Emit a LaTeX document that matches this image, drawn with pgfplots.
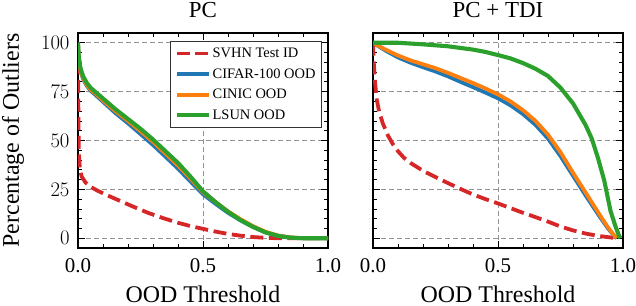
\documentclass[border=0pt]{standalone}
\usepackage[no-math]{fontspec}
\setmainfont{Liberation Serif}
\usepackage{pgfplots}
\pgfplotsset{compat=1.18}
\definecolor{tabred}{HTML}{D62728}
\definecolor{tabblue}{HTML}{1F77B4}
\definecolor{taborange}{HTML}{FF7F0E}
\definecolor{tabgreen}{HTML}{2CA02C}
\pgfplotsset{
  common/.style={
    scale only axis, width=250bp, height=215bp,
    xmin=0, xmax=1, ymin=-5, ymax=105,
    xtick={0,0.5,1}, ytick={0,25,50,75,100},
    xticklabels={0.0,0.5,1.0},
    minor x tick num=4, minor y tick num=4,
    tick align=inside, tick pos=both,
    major tick length=7bp, minor tick length=4bp,
    every tick/.style={black, line width=1bp},
    every minor tick/.style={black, line width=0.8bp},
    axis line style={line width=1.3bp, black},
    grid=major,
    major grid style={gray!85, line width=0.9bp, dash pattern=on 5bp off 3bp},
    tick label style={font=\fontsize{21}{22}\selectfont},
    xticklabel style={anchor=base, yshift=-24bp},
    yticklabel style={xshift=-5bp},
    every axis title/.style={at={(axis description cs:0.5,1)}, anchor=base, yshift=15bp, font=\fontsize{23}{25}\selectfont},
    every axis x label/.style={at={(axis description cs:0.5,0)}, anchor=base, yshift=-54bp, font=\fontsize{24}{26}\selectfont},
    every axis y label/.style={at={(axis description cs:0,0.5)}, xshift=-59bp, rotate=90, anchor=base, font=\fontsize{24}{26}\selectfont},
    legend image code/.code={\draw[#1] (0bp,0bp) -- (32bp,0bp);},
  },
  redc/.style={tabred, line width=3.8bp, dash pattern=on 13bp off 5.6bp},
  bluec/.style={tabblue, line width=3.8bp},
  orangec/.style={taborange, line width=3.8bp},
  greenc/.style={tabgreen, line width=4.1bp},
}
\begin{document}
\begin{tikzpicture}
\useasboundingbox (0,0) rectangle (636bp,306bp);
\begin{axis}[common, at={(78bp,58bp)}, anchor=south west,
  title={PC}, xlabel={OOD Threshold}, ylabel={Percentage of Outliers},
  legend cell align=left,
  legend style={at={(axis description cs:1,1)}, anchor=north east, xshift=-6bp, yshift=-8bp,
    font=\fontsize{14.5}{15.5}\selectfont, draw=black!80, line width=1bp, row sep=5.5bp,
    inner xsep=4bp, inner ysep=4.5bp, fill=white},
]
\addplot[redc] coordinates {(0,100)(0.001,75)(0.002,55)(0.004,42)(0.008,35)(0.015,31.5)(0.03,28.5)(0.05,26.3)(0.08,24.2)(0.12,21.8)(0.17,19)(0.22,16.2)(0.28,13)(0.34,10.3)(0.4,7.9)(0.45,6.2)(0.5,4.8)(0.55,3.4)(0.6,2.2)(0.65,1.3)(0.7,0.6)(0.75,0.2)(0.8,0)(1,0)};
\addlegendentry{SVHN Test ID}
\addplot[bluec] coordinates {(0,100)(0.003,92)(0.01,86)(0.02,81.5)(0.035,78)(0.05,75.5)(0.07,73.3)(0.1,69.8)(0.15,64)(0.2,58.8)(0.25,53.3)(0.3,47.7)(0.35,41.7)(0.4,35.6)(0.45,29)(0.5,22.5)(0.55,17.6)(0.6,13)(0.65,9.1)(0.7,5.8)(0.75,3)(0.8,1.2)(0.85,0.3)(0.9,0)(1,0)};
\addlegendentry{CIFAR-100 OOD}
\addplot[orangec] coordinates {(0,100)(0.003,92)(0.01,86)(0.02,82)(0.035,78.5)(0.05,76)(0.07,74)(0.1,70.5)(0.15,65)(0.2,60)(0.25,54.8)(0.3,49.3)(0.35,43.3)(0.4,37.2)(0.45,30.5)(0.5,23.5)(0.55,18.5)(0.6,13.8)(0.65,9.7)(0.7,6.2)(0.75,3.3)(0.8,1.4)(0.85,0.4)(0.9,0)(1,0)};
\addlegendentry{CINIC OOD}
\addplot[greenc] coordinates {(0,100)(0.003,93)(0.01,87)(0.02,83)(0.035,79.5)(0.05,77)(0.07,74.8)(0.1,71.5)(0.15,66)(0.2,61)(0.25,56)(0.3,50.5)(0.35,44.5)(0.4,38.5)(0.45,31.5)(0.5,24)(0.55,18.5)(0.6,13.5)(0.65,9.3)(0.7,5.8)(0.75,3)(0.8,1.2)(0.85,0.3)(0.9,0)(1,0)};
\addlegendentry{LSUN OOD}
\end{axis}
\begin{axis}[common, at={(373bp,58bp)}, anchor=south west,
  title={PC + TDI}, xlabel={OOD Threshold}, yticklabels={},
]
\addplot[redc] coordinates {(0,100)(0.003,90)(0.008,80)(0.015,71)(0.025,64.5)(0.04,58.5)(0.06,52.5)(0.08,48)(0.1,44.5)(0.125,41)(0.15,38.5)(0.2,34.5)(0.25,31.3)(0.3,28.2)(0.35,25.2)(0.4,22.4)(0.45,20)(0.5,17.8)(0.55,15.4)(0.6,13)(0.65,10.8)(0.7,8.5)(0.75,6)(0.8,4)(0.85,2.4)(0.9,1.2)(0.95,0.4)(0.97,0)};
\addplot[bluec] coordinates {(0,100)(0.05,96)(0.1,92.5)(0.15,89.8)(0.2,87.5)(0.25,85.3)(0.3,82.8)(0.35,80)(0.4,77.3)(0.45,74.5)(0.5,71.6)(0.55,68)(0.6,63.5)(0.65,58)(0.7,51)(0.75,42)(0.8,32)(0.85,22)(0.9,12.3)(0.94,5)(0.96,2)(0.975,0)};
\addplot[orangec] coordinates {(0,100)(0.05,96.5)(0.1,93.5)(0.15,91)(0.2,89)(0.25,87)(0.3,84.6)(0.35,82)(0.4,79.4)(0.45,76.6)(0.5,73.6)(0.55,70)(0.6,65.5)(0.65,60)(0.7,53)(0.75,44)(0.8,33.5)(0.85,23.5)(0.9,13.3)(0.94,5.5)(0.96,2.2)(0.975,0)};
\addplot[greenc] coordinates {(0,100)(0.1,100)(0.2,99.2)(0.3,98.2)(0.4,96.5)(0.45,95.3)(0.5,93.7)(0.55,92)(0.6,89.6)(0.65,86.7)(0.7,83)(0.75,77)(0.8,69)(0.85,58)(0.875,51)(0.9,41)(0.925,29.5)(0.95,14)(0.97,6)(0.985,1)(0.99,0)};
\end{axis}
\end{tikzpicture}
\end{document}
